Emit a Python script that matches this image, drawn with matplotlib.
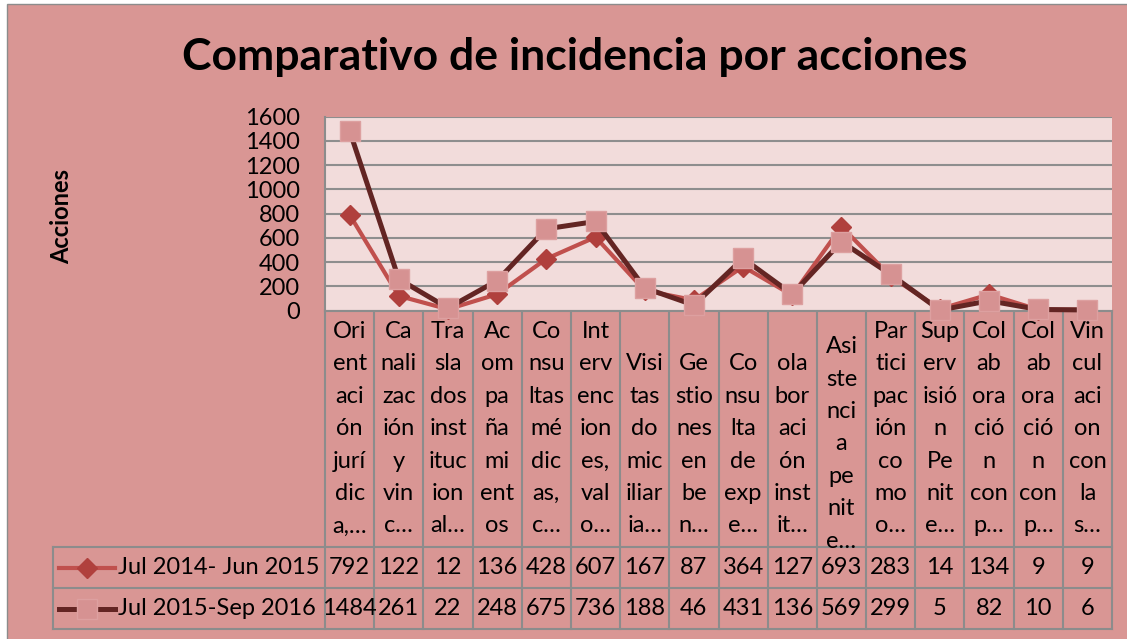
import numpy as np
import matplotlib
matplotlib.use("Agg")
import matplotlib.pyplot as plt
from matplotlib.patches import Rectangle

# datos del grafico
categorias = [
    "Ori\nent\naci\nón\njurí\ndic\na,…",
    "Ca\nnali\nzac\nión\ny\nvin\nc…",
    "Tra\nsla\ndos\ninst\nituc\nion\nal…",
    "Ac\nom\npa\nña\nmi\nent\nos",
    "Co\nnsu\nltas\nmé\ndic\nas,\nc…",
    "Int\nerv\nenc\nion\nes,\nval\no…",
    "Visi\ntas\ndo\nmic\niliar\nia…",
    "Ge\nstio\nnes\nen\nbe\nn…",
    "Co\nnsu\nlta\nde\nexp\ne…",
    "ola\nbor\naci\nón\ninst\nit…",
    "Asi\nste\nnci\na\npe\nnit\ne…",
    "Par\ntici\npac\nión\nco\nmo\no…",
    "Sup\nerv\nisió\nn\nPe\nnit\ne…",
    "Col\nab\nora\nció\nn\ncon\np…",
    "Col\nab\nora\nció\nn\ncon\np…",
    "Vin\ncul\naci\non\ncon\nla\ns…",
]
serie_2014 = [792, 122, 12, 136, 428, 607, 167, 87, 364, 127, 693, 283, 14, 134, 9, 9]
serie_2015 = [1484, 261, 22, 248, 675, 736, 188, 46, 431, 136, 569, 299, 5, 82, 10, 6]
nombres = ["Jul 2014- Jun 2015", "Jul 2015-Sep 2016"]
titulo = "Comparativo de incidencia por acciones"
y_ticks = list(range(0, 1601, 200))

plt.rcParams['font.family'] = ['Lato', 'DejaVu Sans']

W, H = 1127, 639
fondo = '#D99694'
fondo_plot = '#F2DCDB'
gris = '#8C8C8C'
c1_linea, c1_marca = '#C0504D', '#B0403D'
c2_linea, c2_marca, c2_borde = '#632523', '#D69292', '#DDA0A0'
fs = 17

fig = plt.figure(figsize=(W / 100, H / 100), dpi=100, facecolor='white')

# capa de fondo en coordenadas de pixel
bg = fig.add_axes([0, 0, 1, 1], zorder=0)
bg.set_xlim(0, W)
bg.set_ylim(H, 0)
bg.axis('off')
bg.add_patch(Rectangle((7, 4), W, H, facecolor=fondo, edgecolor=gris, lw=1))

# area del grafico
px_left, px_right, px_top, px_bottom = 325, 1112, 116.7, 310.7
ax = fig.add_axes([px_left / W, 1 - px_bottom / H, (px_right - px_left) / W,
                   (px_bottom - px_top) / H], zorder=2)
ax.set_facecolor(fondo_plot)
n = len(categorias)
x = np.arange(n)
ax.set_xlim(-0.5, n - 0.5)
ax.set_ylim(0, 1600)
ax.set_yticks(y_ticks)
ax.set_xticks([])
ax.tick_params(axis='y', length=0, pad=18, labelsize=fs)
ax.yaxis.grid(True, color='#8E8E8E', lw=1.5)
ax.set_axisbelow(True)
for s in ['top', 'right']:
    ax.spines[s].set_visible(False)
ax.spines['left'].set_color(gris)
ax.spines['left'].set_linewidth(1.5)
ax.spines['bottom'].set_color(gris)
ax.spines['bottom'].set_linewidth(1.5)

ax.plot(x, serie_2014, color=c1_linea, lw=3, marker='D', ms=10,
        mfc=c1_marca, mec=c1_marca, clip_on=False, zorder=3)
ax.plot(x, serie_2015, color=c2_linea, lw=3.6, marker='s', ms=14,
        mfc=c2_marca, mec=c2_borde, mew=1, clip_on=False, zorder=4)

bg.text(62, 216, "Acciones", fontsize=fs, fontweight='bold', rotation=90,
        ha='center', va='center')
bg.text(575, 57, titulo, fontsize=32, fontweight='bold', ha='center', va='center')

# tabla de datos
col_w = (px_right - px_left) / n
bordes = px_left + col_w * np.arange(n + 1)
fila1, fila2, fila3 = 547, 588, 629
tbl_left = 53
for xb in bordes:
    bg.plot([xb, xb], [px_bottom, fila3], color=gris, lw=1.5)
bg.plot([tbl_left, tbl_left], [fila1, fila3], color=gris, lw=1.5)
for yb in [fila1, fila2, fila3]:
    bg.plot([tbl_left, px_right], [yb, yb], color=gris, lw=1.5)

# etiquetas de categoria (texto partido como en Excel)
clip = Rectangle((px_left, px_bottom), px_right - px_left, fila1 - px_bottom,
                 transform=bg.transData, visible=False)
bg.add_patch(clip)
paso = 32.4
for i, lab in enumerate(categorias):
    lineas = lab.split("\n")
    inicio = 7 - len(lineas)
    if len(lineas) == 7 and lab.startswith("Asi"):
        inicio = 0.47
    cx = (bordes[i] + bordes[i + 1]) / 2
    for j, t in enumerate(lineas):
        txt = bg.text(cx, 331.5 + (inicio + j) * paso, t, fontsize=fs,
                      ha='center', va='center')
        txt.set_clip_path(clip)

# valores
for fila_y, valores in [((fila1 + fila2) / 2, serie_2014), ((fila2 + fila3) / 2, serie_2015)]:
    for i, v in enumerate(valores):
        cx = (bordes[i] + bordes[i + 1]) / 2
        bg.text(cx, fila_y, str(v), fontsize=fs, ha='center', va='center')

# claves de leyenda
ky1, ky2 = (fila1 + fila2) / 2, (fila2 + fila3) / 2
bg.plot([59, 115], [ky1, ky1], color=c1_linea, lw=3)
bg.plot([87], [ky1], marker='D', ms=10, color=c1_marca)
bg.plot([59, 115], [ky2, ky2], color=c2_linea, lw=3.6)
bg.plot([87], [ky2], marker='s', ms=14, mfc=c2_marca, mec=c2_borde)
bg.text(118, ky1, nombres[0], fontsize=fs, ha='left', va='center')
bg.text(118, ky2, nombres[1], fontsize=fs, ha='left', va='center')

fig.savefig("out.png", dpi=100, facecolor='white')
